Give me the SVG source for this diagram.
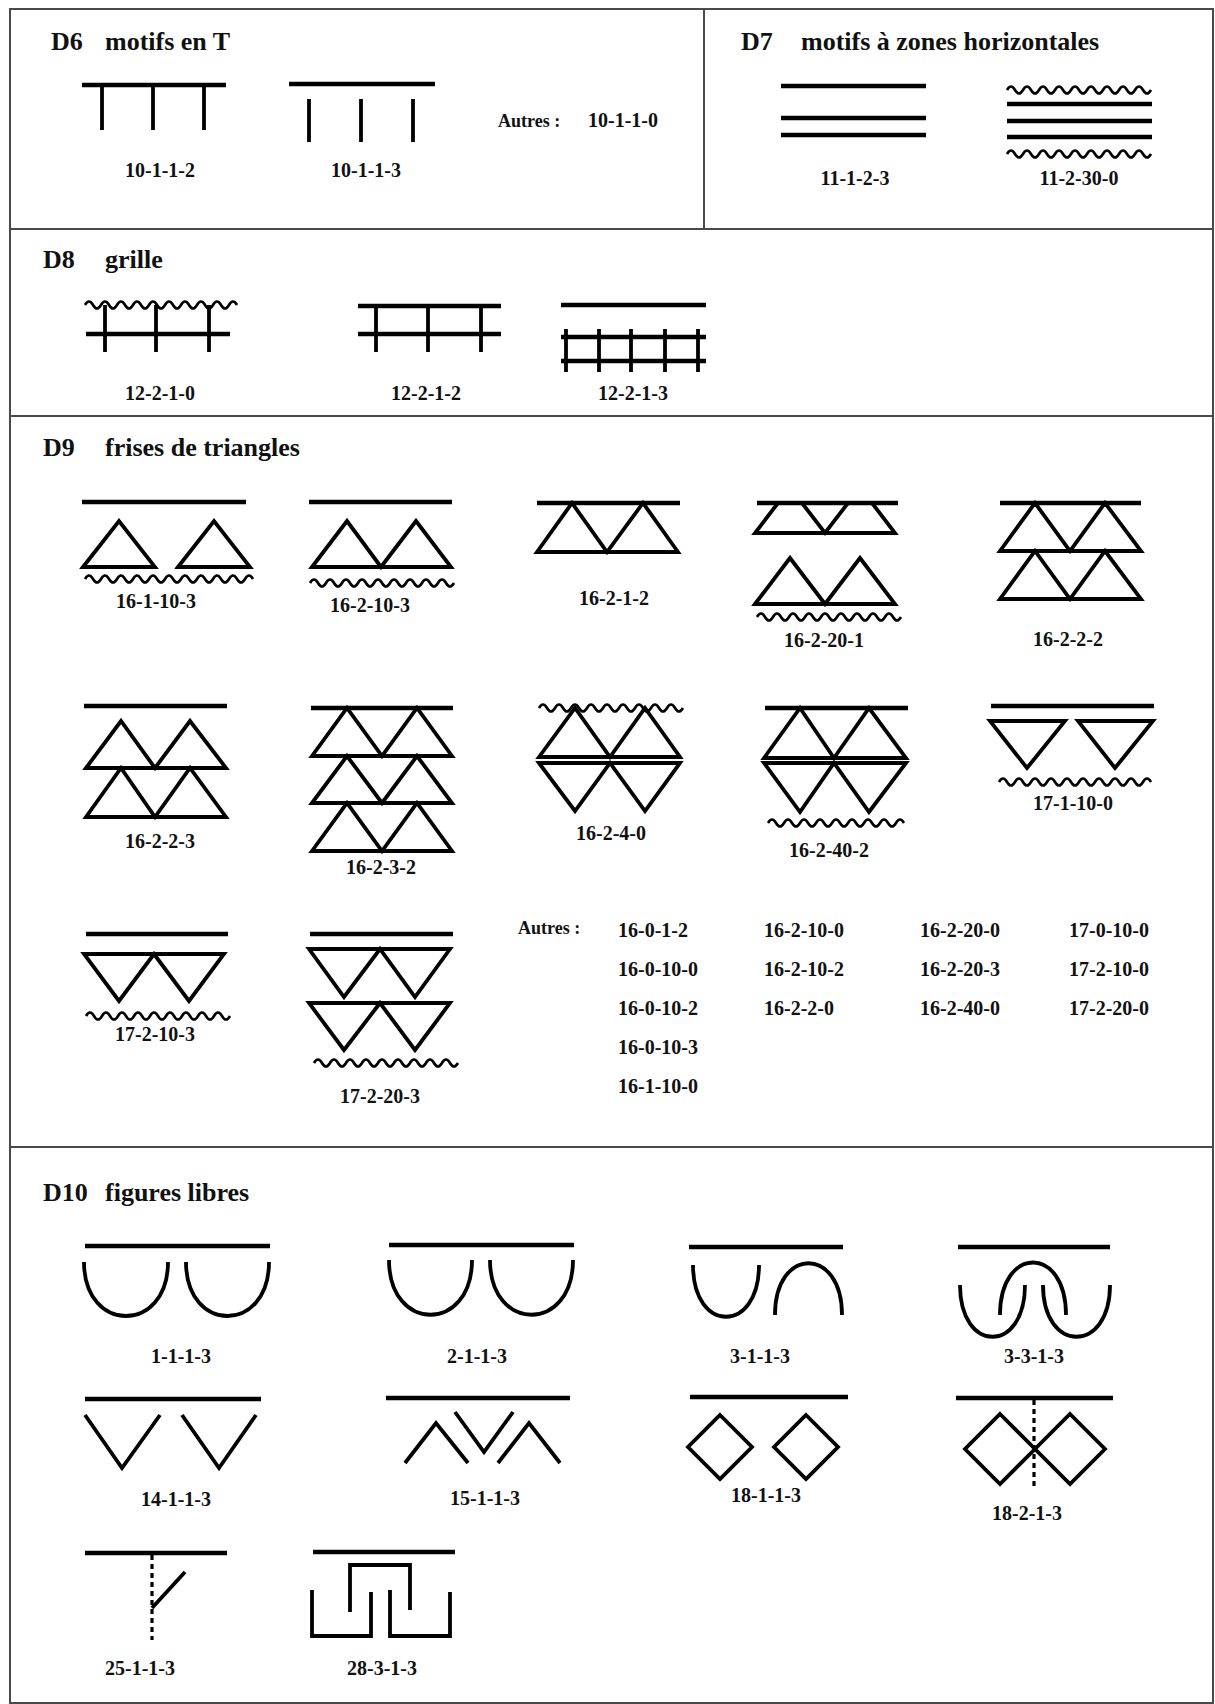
<svg xmlns="http://www.w3.org/2000/svg" width="1215" height="1704" viewBox="0 0 1215 1704">
<style>
.frame{fill:none;stroke:#4a4a4a;stroke-width:2}
.bar{fill:none;stroke:#000;stroke-width:4.5}
.ln{fill:none;stroke:#000;stroke-width:3.8;stroke-linejoin:miter}
.wave{fill:none;stroke:#000;stroke-width:2.6}
.dot{fill:none;stroke:#000;stroke-width:3.2;stroke-dasharray:5 4}
.title{font-family:"Liberation Serif","Times New Roman",serif;font-weight:bold;font-size:26px;fill:#111}
.lbl{font-family:"Liberation Serif","Times New Roman",serif;font-weight:bold;font-size:20px;fill:#111;text-anchor:middle}
.lst{font-family:"Liberation Serif","Times New Roman",serif;font-weight:bold;font-size:20px;fill:#111}
.aut{font-family:"Liberation Serif","Times New Roman",serif;font-weight:bold;font-size:18px;fill:#111}
</style>
<rect width="1215" height="1704" fill="#fff"/>
<g id="frame">
<rect class="frame" x="10" y="9" width="1203" height="1694"/>
<line class="frame" x1="704" y1="9" x2="704" y2="229"/>
<line class="frame" x1="10" y1="229" x2="1213" y2="229"/>
<line class="frame" x1="10" y1="416" x2="1213" y2="416"/>
<line class="frame" x1="10" y1="1147" x2="1213" y2="1147"/>
</g>
<g id="connectors"></g>

<!-- D6 -->
<g id="d6-title"><text class="title" x="51" y="50">D6</text><text class="title" x="105" y="50">motifs en T</text></g>
<g id="m10-1-1-2">
<path class="bar" d="M82,85H226"/>
<path class="ln" d="M102,85V130M153,85V130M204,85V130"/>
<text class="lbl" x="160" y="177">10-1-1-2</text>
</g>
<g id="m10-1-1-3">
<path class="bar" d="M289,84H435"/>
<path class="ln" d="M309,99V142M361,99V142M413,99V142"/>
<text class="lbl" x="366" y="177">10-1-1-3</text>
</g>
<g id="d6-autres"><text class="aut" x="498" y="127">Autres :</text><text class="lst" x="588" y="127">10-1-1-0</text></g>

<!-- D7 -->
<g id="d7-title"><text class="title" x="741" y="50">D7</text><text class="title" x="801" y="50">motifs à zones horizontales</text></g>
<g id="m11-1-2-3">
<path class="bar" d="M781,86H926M781,118H926M781,135H926"/>
<text class="lbl" x="855" y="185">11-1-2-3</text>
</g>
<g id="m11-2-30-0">
<path class="wave" d="M1007,90q4,-7 8,0t8,0t8,0t8,0t8,0t8,0t8,0t8,0t8,0t8,0t8,0t8,0t8,0t8,0t8,0t8,0t8,0t8,0"/>
<path class="bar" d="M1007,104H1152M1007,121H1152M1007,137H1152"/>
<path class="wave" d="M1007,154q4,-7 8,0t8,0t8,0t8,0t8,0t8,0t8,0t8,0t8,0t8,0t8,0t8,0t8,0t8,0t8,0t8,0t8,0t8,0"/>
<text class="lbl" x="1079" y="185">11-2-30-0</text>
</g>

<!-- D8 -->
<g id="d8-title"><text class="title" x="43" y="268">D8</text><text class="title" x="105" y="268">grille</text></g>
<g id="m12-2-1-0">
<path class="wave" d="M85,305q4,-7 8,0t8,0t8,0t8,0t8,0t8,0t8,0t8,0t8,0t8,0t8,0t8,0t8,0t8,0t8,0t8,0t8,0t8,0t8,0"/>
<path class="bar" d="M86,334H230"/>
<path class="ln" d="M105,305V352M156,305V352M209,305V352"/>
<text class="lbl" x="160" y="400">12-2-1-0</text>
</g>
<g id="m12-2-1-2">
<path class="bar" d="M358,306H501M358,334H501"/>
<path class="ln" d="M376,306V352M428,306V352M481,306V352"/>
<text class="lbl" x="426" y="400">12-2-1-2</text>
</g>
<g id="m12-2-1-3">
<path class="bar" d="M561,305H706M561,337H706M561,361H706"/>
<path class="ln" d="M566,329V372M599,329V372M631,329V372M665,329V372M698,329V372"/>
<text class="lbl" x="633" y="400">12-2-1-3</text>
</g>

<!-- D9 -->
<g id="d9-title"><text class="title" x="43" y="456">D9</text><text class="title" x="105" y="456">frises de triangles</text></g>
<g id="m16-1-10-3">
<path class="bar" d="M82,502H246"/>
<path class="ln" d="M83,567L119,521L155,567Z M178,567L214,521L250,567Z"/>
<path class="wave" d="M85,579q4,-7 8,0t8,0t8,0t8,0t8,0t8,0t8,0t8,0t8,0t8,0t8,0t8,0t8,0t8,0t8,0t8,0t8,0t8,0t8,0t8,0t8,0"/>
<text class="lbl" x="156" y="608">16-1-10-3</text>
</g>
<g id="m16-2-10-3">
<path class="bar" d="M309,502H452"/>
<path class="ln" d="M312,567L347,521L381,567L416,521L451,567Z"/>
<path class="wave" d="M310,583q4,-7 8,0t8,0t8,0t8,0t8,0t8,0t8,0t8,0t8,0t8,0t8,0t8,0t8,0t8,0t8,0t8,0t8,0t8,0"/>
<text class="lbl" x="370" y="612">16-2-10-3</text>
</g>
<g id="m16-2-1-2">
<path class="bar" d="M537,503H680"/>
<path class="ln" d="M537,552L572,503L607,552L643,503L678,552Z"/>
<text class="lbl" x="614" y="605">16-2-1-2</text>
</g>
<g id="m16-2-20-1">
<path class="bar" d="M757,503H898"/>
<path class="ln" d="M778,503L755,533H895L872,503M802,503L825,533L848,503"/>
<path class="ln" d="M755,604L790,558L825,604L860,558L895,604Z"/>
<path class="wave" d="M757,617q4,-7 8,0t8,0t8,0t8,0t8,0t8,0t8,0t8,0t8,0t8,0t8,0t8,0t8,0t8,0t8,0t8,0t8,0t8,0"/>
<text class="lbl" x="824" y="647">16-2-20-1</text>
</g>
<g id="m16-2-2-2">
<path class="bar" d="M1000,503H1141"/>
<path class="ln" d="M1000,551L1035,503L1070,551L1105,503L1141,551Z M1000,599L1035,551L1070,599L1105,551L1141,599Z"/>
<text class="lbl" x="1068" y="646">16-2-2-2</text>
</g>

<g id="m16-2-2-3">
<path class="bar" d="M84,706H227"/>
<path class="ln" d="M86,768L121,721L155,768L190,721L226,768Z M86,817L121,768L155,817L190,768L226,817Z"/>
<text class="lbl" x="160" y="848">16-2-2-3</text>
</g>
<g id="m16-2-3-2">
<path class="bar" d="M311,708H453"/>
<path class="ln" d="M312,756L347,708L382,756L417,708L452,756Z M312,803L347,756L382,803L417,756L452,803Z M312,851L347,803L382,851L417,803L452,851Z"/>
<text class="lbl" x="381" y="874">16-2-3-2</text>
</g>
<g id="m16-2-4-0">
<path class="wave" d="M539,708q4,-7 8,0t8,0t8,0t8,0t8,0t8,0t8,0t8,0t8,0t8,0t8,0t8,0t8,0t8,0t8,0t8,0t8,0t8,0"/>
<path class="ln" d="M539,757L575,708L610,757L645,708L680,757Z M539,763L575,811L610,763L645,811L680,763Z"/>
<text class="lbl" x="611" y="840">16-2-4-0</text>
</g>
<g id="m16-2-40-2">
<path class="bar" d="M765,708H908"/>
<path class="ln" d="M764,758L800,708L834,758L869,708L906,758Z M764,763L800,812L834,763L869,812L906,763Z"/>
<path class="wave" d="M768,823q4,-7 8,0t8,0t8,0t8,0t8,0t8,0t8,0t8,0t8,0t8,0t8,0t8,0t8,0t8,0t8,0t8,0t8,0"/>
<text class="lbl" x="829" y="857">16-2-40-2</text>
</g>
<g id="m17-1-10-0">
<path class="bar" d="M991,706H1154"/>
<path class="ln" d="M990,721H1065L1027,768Z M1078,721H1153L1115,768Z"/>
<path class="wave" d="M999,782q4,-7 8,0t8,0t8,0t8,0t8,0t8,0t8,0t8,0t8,0t8,0t8,0t8,0t8,0t8,0t8,0t8,0t8,0t8,0t8,0"/>
<text class="lbl" x="1073" y="810">17-1-10-0</text>
</g>

<g id="m17-2-10-3">
<path class="bar" d="M86,934H228"/>
<path class="ln" d="M84,954H224L189,1001L154,954L119,1001Z"/>
<path class="wave" d="M86,1016q4,-7 8,0t8,0t8,0t8,0t8,0t8,0t8,0t8,0t8,0t8,0t8,0t8,0t8,0t8,0t8,0t8,0t8,0t8,0"/>
<text class="lbl" x="155" y="1041">17-2-10-3</text>
</g>
<g id="m17-2-20-3">
<path class="bar" d="M310,934H453"/>
<path class="ln" d="M309,949H450L415,997L380,949L344,997Z M309,1003H450L415,1050L380,1003L344,1050Z"/>
<path class="wave" d="M314,1063q4,-7 8,0t8,0t8,0t8,0t8,0t8,0t8,0t8,0t8,0t8,0t8,0t8,0t8,0t8,0t8,0t8,0t8,0t8,0"/>
<text class="lbl" x="380" y="1103">17-2-20-3</text>
</g>
<g id="d9-autres">
<text class="aut" x="518" y="934">Autres :</text>
<text class="lst" x="618" y="937">16-0-1-2</text>
<text class="lst" x="618" y="976">16-0-10-0</text>
<text class="lst" x="618" y="1015">16-0-10-2</text>
<text class="lst" x="618" y="1054">16-0-10-3</text>
<text class="lst" x="618" y="1093">16-1-10-0</text>
<text class="lst" x="764" y="937">16-2-10-0</text>
<text class="lst" x="764" y="976">16-2-10-2</text>
<text class="lst" x="764" y="1015">16-2-2-0</text>
<text class="lst" x="920" y="937">16-2-20-0</text>
<text class="lst" x="920" y="976">16-2-20-3</text>
<text class="lst" x="920" y="1015">16-2-40-0</text>
<text class="lst" x="1069" y="937">17-0-10-0</text>
<text class="lst" x="1069" y="976">17-2-10-0</text>
<text class="lst" x="1069" y="1015">17-2-20-0</text>
</g>

<!-- D10 -->
<g id="d10-title"><text class="title" x="43" y="1201">D10</text><text class="title" x="105" y="1201">figures libres</text></g>
<g id="m1-1-1-3">
<path class="bar" d="M85,1246H270"/>
<path class="ln" d="M84,1262C84,1334 168,1334 168,1262 M186,1262C186,1334 269,1334 269,1262"/>
<text class="lbl" x="181" y="1363">1-1-1-3</text>
</g>
<g id="m2-1-1-3">
<path class="bar" d="M389,1245H574"/>
<path class="ln" d="M389,1260C389,1333 472,1333 472,1260 M490,1260C490,1333 573,1333 573,1260"/>
<text class="lbl" x="477" y="1363">2-1-1-3</text>
</g>
<g id="m3-1-1-3">
<path class="bar" d="M689,1247H843"/>
<path class="ln" d="M693,1265C693,1334 759,1334 759,1265 M775,1315C775,1246 842,1246 842,1315"/>
<text class="lbl" x="760" y="1363">3-1-1-3</text>
</g>
<g id="m3-3-1-3">
<path class="bar" d="M958,1247H1110"/>
<path class="ln" d="M960,1285C960,1354 1025,1354 1025,1285 M1043,1285C1043,1354 1110,1354 1110,1285 M1000,1315C1000,1245 1066,1245 1066,1315"/>
<text class="lbl" x="1034" y="1363">3-3-1-3</text>
</g>

<g id="m14-1-1-3">
<path class="bar" d="M85,1399H261"/>
<path class="ln" d="M85,1415L122,1468L160,1415 M182,1415L219,1468L256,1415"/>
<text class="lbl" x="176" y="1506">14-1-1-3</text>
</g>
<g id="m15-1-1-3">
<path class="bar" d="M386,1398H570"/>
<path class="ln" d="M405,1463L436,1423L468,1463 M455,1412L484,1452L513,1412 M498,1463L529,1423L560,1463"/>
<text class="lbl" x="485" y="1505">15-1-1-3</text>
</g>
<g id="m18-1-1-3">
<path class="bar" d="M690,1397H848"/>
<path class="ln" d="M720,1415L752,1447L720,1479L688,1447Z M806,1415L838,1447L806,1479L774,1447Z"/>
<text class="lbl" x="766" y="1502">18-1-1-3</text>
</g>
<g id="m18-2-1-3">
<path class="bar" d="M956,1398H1113"/>
<path class="dot" d="M1034,1400V1486"/>
<path class="ln" d="M1000,1414L1035,1449L1000,1484L965,1449Z M1070,1414L1105,1449L1070,1484L1035,1449Z"/>
<text class="lbl" x="1027" y="1520">18-2-1-3</text>
</g>

<g id="m25-1-1-3">
<path class="bar" d="M85,1553H227"/>
<path class="dot" d="M152,1555V1640"/>
<path class="ln" d="M152,1608L185,1572"/>
<text class="lbl" x="140" y="1675">25-1-1-3</text>
</g>
<g id="m28-3-1-3">
<path class="bar" d="M313,1552H455"/>
<path class="ln" d="M350,1612V1565H410V1610 M312,1590V1636H371V1592 M390,1590V1636H450V1592"/>
<text class="lbl" x="382" y="1675">28-3-1-3</text>
</g>
</svg>
